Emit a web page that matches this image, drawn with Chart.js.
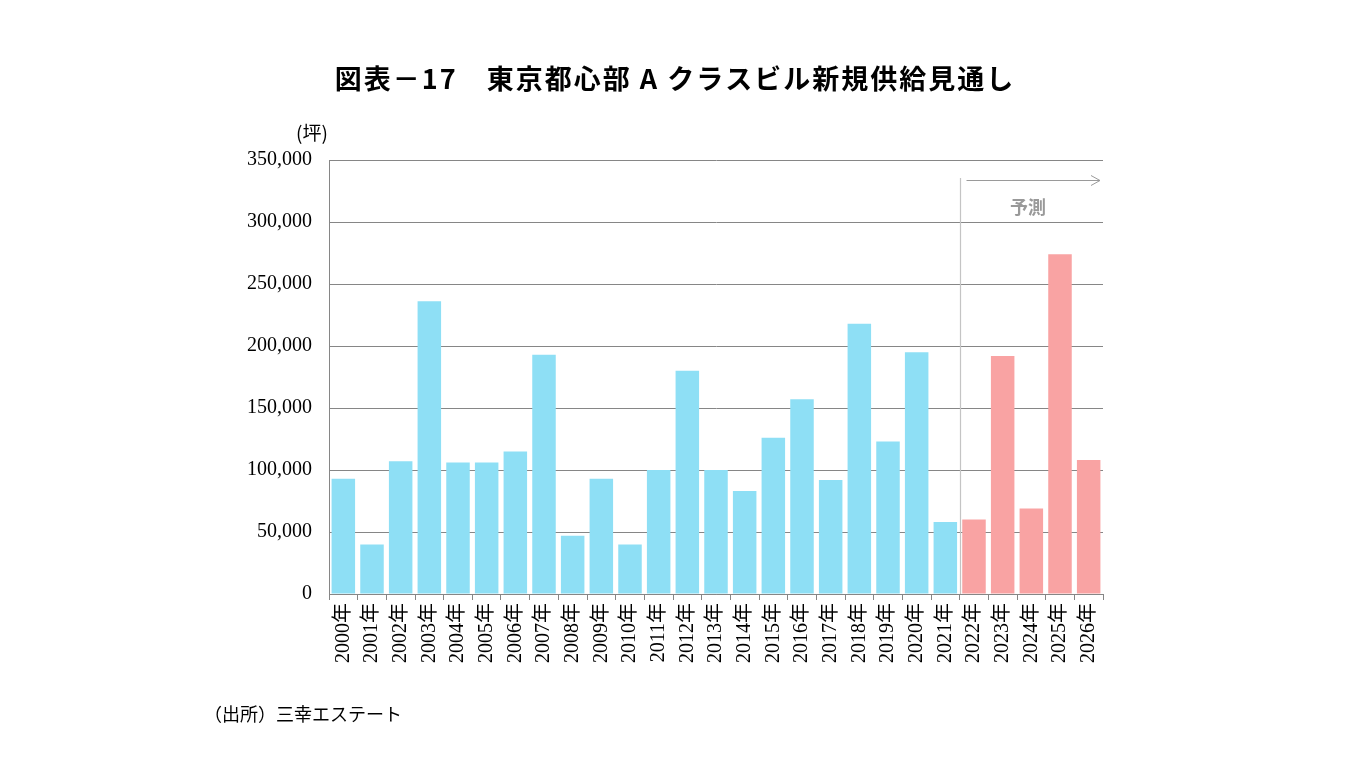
<!DOCTYPE html>
<html><head><meta charset="utf-8">
<script src="https://cdn.jsdelivr.net/npm/chart.js@4"></script>
<style>html,body{margin:0;padding:0;background:#fff;}#wrap{width:1355px;height:778px;position:relative;}</style>
</head><body><div id="wrap"><canvas id="c" width="1355" height="778"></canvas></div>
<script>
const titleText = '図表－17　東京都心部 A クラスビル新規供給見通し';
const unitText = '(坪)';
const sourceText = '（出所）三幸エステート';
const forecastLabel = '予測';
const years = ['2000年','2001年','2002年','2003年','2004年','2005年','2006年','2007年','2008年','2009年','2010年','2011年','2012年','2013年','2014年','2015年','2016年','2017年','2018年','2019年','2020年','2021年','2022年','2023年','2024年','2025年','2026年'];
const supply = [93000,40000,107000,236000,106000,106000,115000,193000,47000,93000,40000,100000,180000,100000,83000,126000,157000,92000,218000,123000,195000,58000,60000,192000,69000,274000,108000];
const forecastStart = '2022年';
const yTicks = [0,50000,100000,150000,200000,250000,300000,350000];

const actualColor = '#8EDFF5';
const forecastColor = '#F9A3A3';
const fIdx = years.indexOf(forecastStart);
const barColors = years.map((y,i)=> i>=fIdx ? forecastColor : actualColor);

const overlay = {
  id:'overlay',
  afterDraw(chart){
    const ctx = chart.ctx, xs = chart.scales.x, ys = chart.scales.y;
    ctx.save();
    // title
    ctx.fillStyle = '#000';
    ctx.font = 'bold 27px "Noto Sans CJK JP", sans-serif';
    try { ctx.letterSpacing = '2px'; } catch(e) {}
    ctx.textAlign = 'center'; ctx.textBaseline = 'middle';
    ctx.fillText(titleText, 675, 79);
    try { ctx.letterSpacing = '0px'; } catch(e) {}
    // unit
    ctx.font = '19px "Noto Sans CJK JP", sans-serif';
    ctx.fillText(unitText, 312, 133);
    // source
    ctx.textAlign = 'left';
    ctx.font = '18px "Noto Sans CJK JP", sans-serif';
    ctx.fillText(sourceText, 204, 714);
    // forecast divider
    const dx = Math.round(xs.getPixelForValue(fIdx - 0.5)) + 0.5;
    ctx.strokeStyle = '#c4c4c4'; ctx.lineWidth = 1.2;
    ctx.beginPath(); ctx.moveTo(dx, 178); ctx.lineTo(dx, ys.bottom); ctx.stroke();
    // arrow
    const ay = 180.5, ax1 = dx + 6, ax2 = xs.right - 3;
    ctx.strokeStyle = '#9a9a9a'; ctx.lineWidth = 1;
    ctx.beginPath(); ctx.moveTo(ax1, ay); ctx.lineTo(ax2, ay); ctx.stroke();
    ctx.beginPath(); ctx.moveTo(ax2 - 9, ay - 5); ctx.lineTo(ax2, ay); ctx.lineTo(ax2 - 9, ay + 5); ctx.stroke();
    // forecast label
    ctx.fillStyle = '#999';
    ctx.textAlign = 'center';
    ctx.font = 'bold 18px "Noto Sans CJK JP", sans-serif';
    ctx.fillText(forecastLabel, 1028, 207);
    ctx.restore();
  }
};

new Chart(document.getElementById('c'), {
  type:'bar',
  data:{labels:years, datasets:[{data:supply, backgroundColor:barColors, borderWidth:0, barPercentage:0.82, categoryPercentage:1.0}]},
  options:{
    responsive:false, animation:false, devicePixelRatio:1,
    layout:{padding:{left:0, top:160, right:252, bottom:0}},
    plugins:{legend:{display:false}, tooltip:{enabled:false}, title:{display:false}},
    scales:{
      x:{
        grid:{display:true, drawOnChartArea:false, drawTicks:true, tickLength:6, color:'#868686', offset:true},
        border:{display:true, color:'#868686', width:1},
        ticks:{minRotation:90, maxRotation:90, autoSkip:false, padding:3, color:'#000',
          font:{family:'"Liberation Serif", "Times New Roman", "Noto Sans CJK JP", serif', size:20}},
        afterFit(s){ s.height = 778 - 594; }
      },
      y:{
        min:0, max:350000,
        afterBuildTicks(s){ s.ticks = yTicks.map(v=>({value:v})); },
        grid:{color:'#868686', lineWidth:1, drawTicks:false},
        border:{display:true, color:'#868686', width:1},
        ticks:{padding:17, color:'#000', callback:v=>v.toLocaleString('en-US'),
          font:{family:'"Liberation Serif", "Times New Roman", serif', size:20}},
        afterFit(s){ s.width = 329; }
      }
    }
  },
  plugins:[overlay]
});
</script></body></html>
